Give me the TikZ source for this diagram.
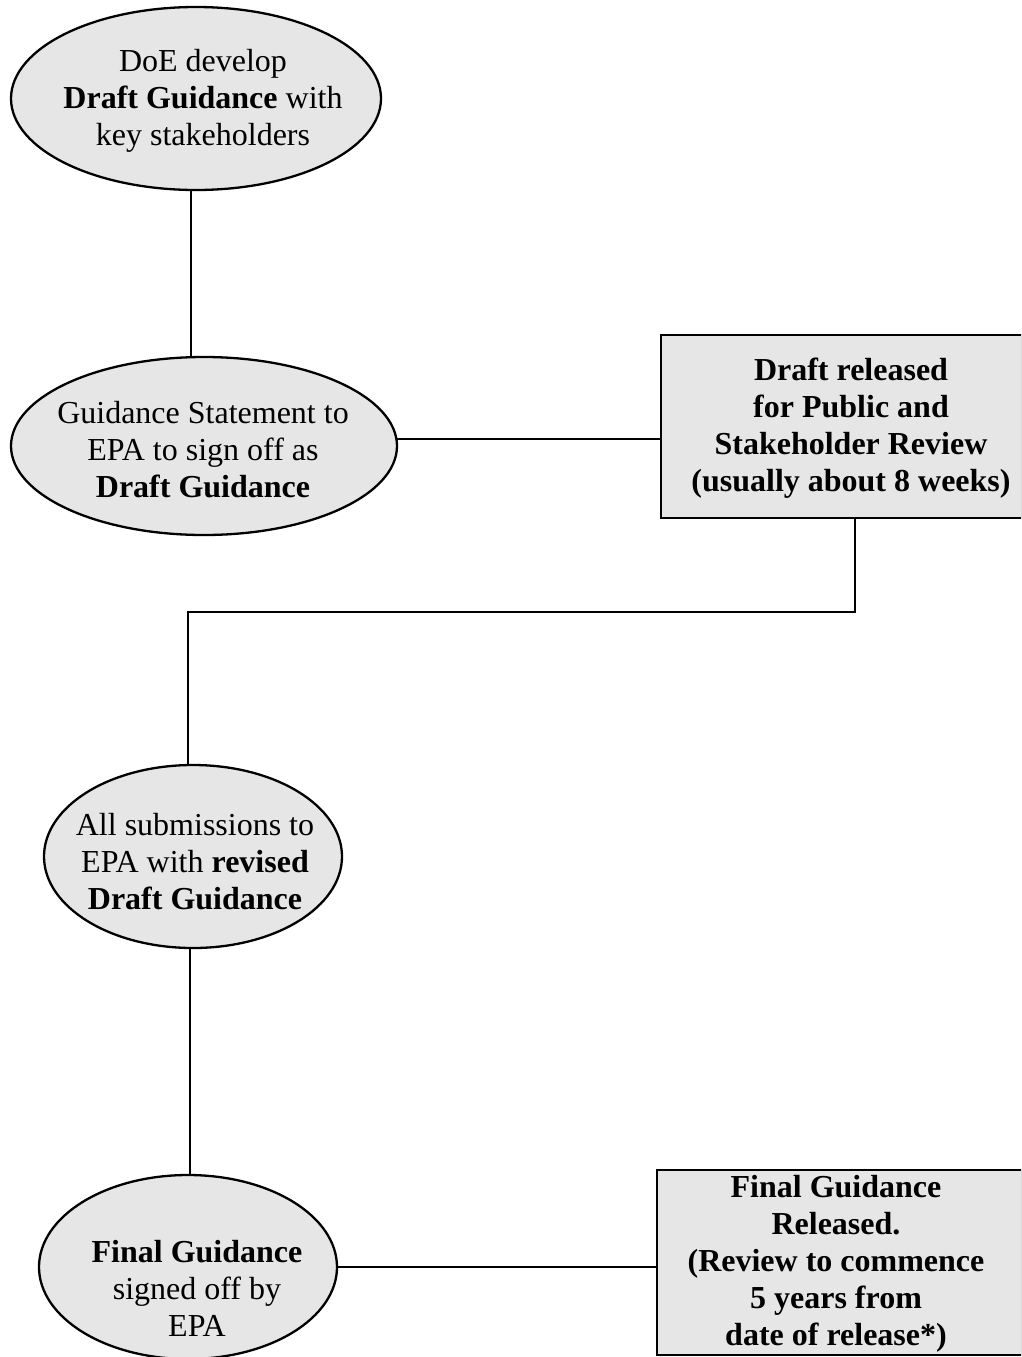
\documentclass[tikz,border=0pt]{standalone}
\usepackage{fontspec}
\setmainfont{Liberation Serif}
\usetikzlibrary{shapes.geometric,backgrounds}
\definecolor{boxfill}{HTML}{E6E6E6}
\tikzset{
  oval/.style={ellipse, draw=black, line width=2.3pt, fill=boxfill, inner sep=0pt},
  panel/.style={rectangle, draw=black, line width=2.7pt, fill=boxfill, inner sep=0pt},
  label/.style={align=center, inner sep=0pt, font=\fontsize{32}{37}\selectfont},
  link/.style={draw=black, line width=2.3pt}
}
\begin{document}
\begin{tikzpicture}[x=1pt,y=-1pt]
\useasboundingbox (0,0) rectangle (1021,1357);
\clip (0,0) rectangle (1021,1357);
% shapes
\node[oval, minimum width=370pt, minimum height=183pt] (e1) at (196,98.5) {};
\node[oval, minimum width=386pt, minimum height=178pt] (e2) at (204,446) {};
\node[oval, minimum width=298pt, minimum height=183pt] (e3) at (193,856.5) {};
\node[oval, minimum width=298pt, minimum height=184pt] (e4) at (188,1267) {};
\node[panel, minimum width=361pt, minimum height=183pt] (r1) at (841.5,426.5) {};
\node[panel, minimum width=365pt, minimum height=185pt] (r2) at (839.5,1262.5) {};
% texts
\node[label] (t1) at (203,101) {DoE develop\\\textbf{Draft Guidance} with\\key stakeholders};
\node[label] (t2) at (203,450) {Guidance Statement to\\EPA to sign off as\\\textbf{Draft Guidance}};
\node[label] (t3) at (195,862) {All submissions to\\EPA with \textbf{revised}\\\textbf{Draft Guidance}};
\node[label] (t4) at (197,1288) {\textbf{Final Guidance}\\signed off by\\EPA};
\node[label, font=\fontsize{32}{37}\selectfont\bfseries] (t5) at (851,428) {Draft released\\for Public and\\Stakeholder Review\\(usually about 8 weeks)};
\node[label, font=\fontsize{32}{37}\selectfont\bfseries] (t6) at (836,1264) {Final Guidance\\Released.\\(Review to commence\\5 years from\\date of release*)};
% connectors
\coordinate (k1) at (855,612);
\coordinate (k2) at (188,612);
\begin{scope}[on background layer]
\draw[link] ([xshift=-5pt]e1.center) -- ([xshift=-13pt]e2.center);
\draw[link] ([yshift=7pt]e2.center) -- ([yshift=7pt]e2.center -| r1.center);
\draw[link] (r1.center -| k1) -- (k1) -- (k2) -- (e3.center -| k2);
\draw[link] ([xshift=-3pt]e3.center) -- ([xshift=2pt]e4.center);
\draw[link] (e4.center) -- (e4.center -| r2.center);
\end{scope}
\end{tikzpicture}
\end{document}
